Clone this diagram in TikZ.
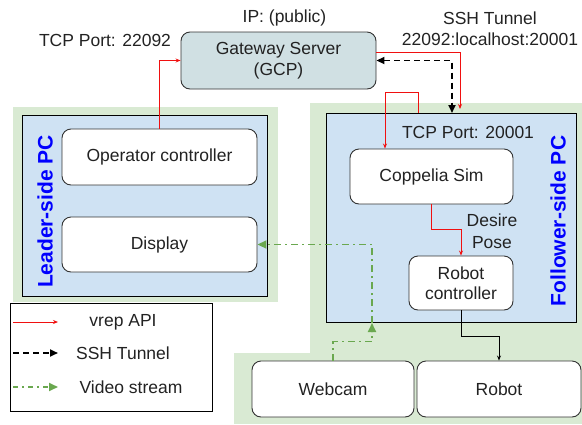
\documentclass[tikz,border=0pt]{standalone}
\usepackage{fontspec}
\setmainfont{Liberation Sans}
\usetikzlibrary{arrows.meta,calc}
\definecolor{greenbg}{HTML}{D9EAD3}
\definecolor{bluebg}{HTML}{CFE2F3}
\definecolor{gwfill}{HTML}{D0E0E3}
\definecolor{vgreen}{HTML}{6AA84F}
\definecolor{apired}{HTML}{F01010}
\definecolor{txt}{HTML}{222222}
\definecolor{edge}{HTML}{333333}
\tikzset{
  box/.style={draw=edge, line width=0.9pt, rounded corners=9pt, fill=white, align=center,
    text=txt, font=\fontsize{17.5}{20.5}\selectfont, inner sep=0pt},
  pcbox/.style={draw=black, line width=0.9pt, fill=bluebg, inner sep=0pt},
  lbl/.style={text=txt, font=\fontsize{17.5}{21}\selectfont, align=center, inner sep=0pt},
  pclbl/.style={text=blue, font=\bfseries\fontsize{21}{24}\selectfont, rotate=90, inner sep=0pt},
  api/.style={apired, line width=0.9pt, -{Stealth[length=5pt,width=4pt]}},
  ssh/.style={black, line width=1.8pt, dash pattern=on 6pt off 4pt, {Triangle[length=8pt,width=7pt]}-{Triangle[length=8pt,width=7pt]}},
  video/.style={vgreen, line width=1.8pt, dash pattern=on 7pt off 4pt on 2pt off 4pt, -{Triangle[length=9pt,width=8pt]}},
  plain/.style={black, line width=0.9pt, -{Stealth[length=5pt,width=4pt]}}
}
\begin{document}
\begin{tikzpicture}[x=1pt,y=-1pt]
\useasboundingbox (0,0) rectangle (582,424);
% green backgrounds
\fill[greenbg] (13,107) rectangle (278,302);
\fill[greenbg] (310,103) rectangle (582,424);
\fill[greenbg] (234,353) rectangle (310,424);
% PC containers
\node[pcbox, minimum width=245pt, minimum height=181pt] (lpc) at (144.5,205.5) {};
\node[pcbox, minimum width=250pt, minimum height=209pt] (fpc) at (451,217.5) {};
\node[pclbl] (lpcl) at (45,211.5) {Leader-side PC};
\node[pclbl] (fpcl) at (558,221) {Follower-side PC};
% gateway
\node[box, fill=gwfill, minimum width=195pt, minimum height=57pt] (gw) at (278.5,60.5) {Gateway Server\\(GCP)};
\node[lbl] (ip) at (284.5,18) {IP: (public)};
\node[lbl] (tcp1) at (105,40) {TCP Port: 22092};
\node[lbl] (sshl) at (490,29) {SSH Tunnel\\22092:localhost:20001};
% leader boxes
\node[box, minimum width=195pt, minimum height=56pt] (opc) at (159.5,157) {Operator controller};
\node[box, minimum width=195pt, minimum height=55pt] (disp) at (159.5,244.5) {Display};
% follower boxes
\node[lbl] (tcp2) at (468,132) {TCP Port: 20001};
\node[box, minimum width=163pt, minimum height=55pt] (cs) at (431.5,176.5) {Coppelia Sim};
\node[box, minimum width=104pt, minimum height=54pt] (rc) at (461,283) {Robot\\controller};
\node[lbl, font=\fontsize{17.5}{22}\selectfont] (dp) at (492,231) {Desire\\Pose};
\node[box, minimum width=162pt, minimum height=56pt] (wc) at (333,389) {Webcam};
\node[box, minimum width=164pt, minimum height=56pt] (robot) at (499,389) {Robot};
% connectors
\draw[api] (opc.north) |- (gw.west);
\coordinate (tunin) at (460,109);
\draw[api] ($(gw.east)+(0,-8)$) -| (tunin);
\coordinate (tunout) at (452,113);
\draw[ssh] (gw.east) -| (tunout);
\coordinate (port) at (418,113);
\draw[apired, line width=0.9pt] (port) -- (418,92) -- (385,92);
\draw[api] (385,92) -- (cs.north -| 385,0);
\draw[api] (cs.south) -- ++(0,25) -| (rc.north);
\draw[plain] (rc.south) -- ++(0,26) -| (robot.north);
\coordinate (vmid) at (372,323);
\draw[video] (wc.north) -- ++(0,-19) -| (vmid);
\draw[video] (vmid) |- (disp.east);
% legend
\node[draw=black, line width=0.8pt, minimum width=202pt, minimum height=108pt, inner sep=0pt] (leg) at (111,357) {};
\coordinate (l1a) at (13,322); \coordinate (l1b) at (58,322);
\coordinate (l2a) at (13,353); \coordinate (l2b) at (58,353);
\coordinate (l3a) at (13,387); \coordinate (l3b) at (58,387);
\draw[api] (l1a) -- (l1b);
\draw[black, line width=1.8pt, dash pattern=on 6pt off 4pt, -{Triangle[length=8pt,width=7pt]}] (l2a) -- (l2b);
\draw[video, dash pattern=on 5pt off 4pt on 2pt off 4pt] (l3a) -- (l3b);
\node[lbl] (lg1) at (123,322) {vrep API};
\node[lbl] (lg2) at (123,353) {SSH Tunnel};
\node[lbl] (lg3) at (131,387) {Video stream};
\end{tikzpicture}
\end{document}
